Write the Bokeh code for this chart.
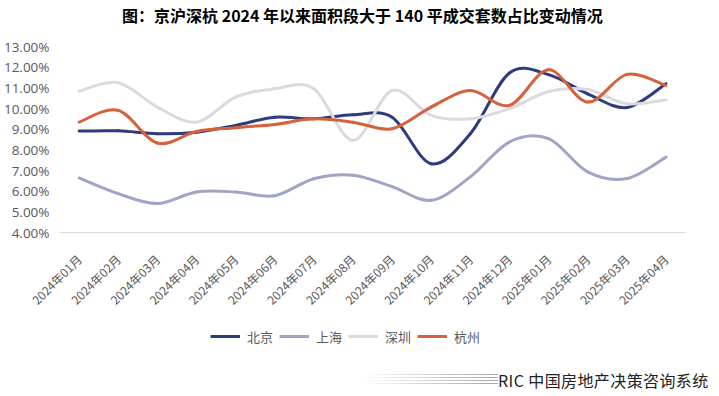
import math
from bokeh.plotting import figure
from bokeh.layouts import column
from bokeh.models import (Range1d, FixedTicker, PrintfTickFormatter, Legend,
                          LegendItem, Label, ColumnDataSource, Div)
from bokeh.embed import file_html
from bokeh.resources import INLINE

months = ["2024年01月", "2024年02月", "2024年03月", "2024年04月", "2024年05月",
          "2024年06月", "2024年07月", "2024年08月", "2024年09月", "2024年10月",
          "2024年11月", "2024年12月", "2025年01月", "2025年02月", "2025年03月",
          "2025年04月"]

beijing = [8.91, 8.92, 8.78, 8.85, 9.18, 9.58, 9.50, 9.70, 9.58, 7.33,
           8.78, 11.72, 11.64, 10.71, 10.05, 11.20]
shanghai = [6.64, 5.88, 5.40, 5.96, 5.96, 5.78, 6.60, 6.77, 6.22, 5.56,
            6.69, 8.38, 8.54, 6.93, 6.61, 7.65]
shenzhen = [10.84, 11.25, 10.07, 9.34, 10.55, 10.96, 10.96, 8.46, 10.87, 9.67,
            9.50, 9.99, 10.82, 10.92, 10.23, 10.42]
hangzhou = [9.34, 9.91, 8.33, 8.89, 9.07, 9.23, 9.50, 9.34, 9.02, 10.07,
            10.87, 10.15, 11.87, 10.31, 11.65, 11.12]

series_names = ["北京", "上海", "深圳", "杭州"]
series_values = [beijing, shanghai, shenzhen, hangzhou]
series_colors = ["#2E3C7E", "#A0A5C6", "#DADBE0", "#D5623A"]

y_ticks = list(range(4, 14))

title_text = "图：京沪深杭 2024 年以来面积段大于 140 平成交套数占比变动情况"
footer_text = "RIC 中国房地产决策咨询系统"

W = 703
BL, BR = 55, 18          # left / right borders of the main plot frame
H_TOP, H_MAIN, H_LEG, H_FOOT = 30, 294, 26, 38


def blank_fig(h):
    # frames in a column are aligned with the main plot frame (BL..W-BR)
    f = figure(width=W, height=h, output_backend="svg", toolbar_location=None,
               x_range=Range1d(BL, W - BR), y_range=Range1d(h, 0),
               x_axis_location=None, y_axis_location=None,
               min_border=0, min_border_left=0, min_border_right=0,
               min_border_top=0, min_border_bottom=0)
    f.outline_line_color = None
    f.grid.visible = False
    f.background_fill_color = "white"
    f.border_fill_color = "white"
    return f


# ---------- title strip ----------
top = blank_fig(H_TOP)
top.add_layout(Label(x=118, y=14, text=title_text, text_align="left",
                     text_baseline="middle", text_font="Noto Sans CJK SC",
                     text_font_size="16px", text_font_style="bold",
                     text_color="#000000"))

# ---------- main chart ----------
p = figure(width=W, height=H_MAIN, output_backend="svg", toolbar_location=None,
           x_range=Range1d(-0.5, len(months) - 0.5),
           y_range=Range1d(y_ticks[0], y_ticks[-1]),
           min_border_left=BL, min_border_right=BR,
           min_border_top=16, min_border_bottom=92)
p.outline_line_color = None
p.grid.visible = False
p.background_fill_color = "white"
p.border_fill_color = "white"


def smooth_segments(vals):
    n = len(vals)
    d = dict(x0=[], y0=[], x1=[], y1=[], cx0=[], cy0=[], cx1=[], cy1=[])
    for i in range(n - 1):
        im = i - 1 if i > 0 else i
        ip = i + 2 if i + 2 < n else i + 1
        d["x0"].append(i)
        d["y0"].append(vals[i])
        d["x1"].append(i + 1)
        d["y1"].append(vals[i + 1])
        d["cx0"].append(i + (i + 1 - im) / 6.0)
        d["cy0"].append(vals[i] + (vals[i + 1] - vals[im]) / 6.0)
        d["cx1"].append(i + 1 - (ip - i) / 6.0)
        d["cy1"].append(vals[i + 1] - (vals[ip] - vals[i]) / 6.0)
    return ColumnDataSource(d)


for name, vals, color in zip(series_names, series_values, series_colors):
    src = smooth_segments(vals)
    p.bezier(x0="x0", y0="y0", x1="x1", y1="y1", cx0="cx0", cy0="cy0",
             cx1="cx1", cy1="cy1", source=src, line_color=color,
             line_width=3, line_cap="round")

xa = p.xaxis[0]
xa.ticker = FixedTicker(ticks=list(range(len(months))))
xa.major_label_overrides = {i: m for i, m in enumerate(months)}
xa.major_label_orientation = math.pi / 4
xa.axis_line_color = "#D9D9D9"
xa.axis_line_width = 1
xa.major_tick_line_color = None
xa.minor_tick_line_color = None
xa.major_tick_out = 0
xa.major_tick_in = 0
xa.major_label_standoff = 24
xa.major_label_text_font = "Noto Sans CJK SC"
xa.major_label_text_font_size = "12px"
xa.major_label_text_color = "#595959"

ya = p.yaxis[0]
ya.ticker = FixedTicker(ticks=y_ticks)
ya.formatter = PrintfTickFormatter(format="%.2f%%")
ya.axis_line_color = None
ya.major_tick_line_color = None
ya.minor_tick_line_color = None
ya.major_tick_out = 0
ya.major_tick_in = 0
ya.major_label_standoff = 10
ya.major_label_text_font = "Open Sans"
ya.major_label_text_font_size = "13.5px"
ya.major_label_text_color = "#595959"

# ---------- legend strip ----------
leg = blank_fig(H_LEG)
items = []
nan = float("nan")
for name, color in zip(series_names, series_colors):
    r = leg.line(x=[nan], y=[nan], line_color=color, line_width=3)
    items.append(LegendItem(label=name, renderers=[r]))
legend = Legend(items=items, orientation="horizontal", location=(151, 4),
                padding=0, margin=0, spacing=6, label_standoff=7,
                glyph_width=30, glyph_height=20, border_line_color=None,
                background_fill_alpha=0, label_text_font_size="13px",
                label_text_color="#595959", label_text_font="Noto Sans CJK SC")
leg.add_layout(legend, "center")

# ---------- footer (source line with faded smear) ----------
footer_html = (
    '<div style="display:flex;align-items:center;white-space:nowrap;'
    'margin-top:17px;margin-left:357px;height:16px;">'
    '<span style="display:inline-block;width:136px;height:12px;'
    'background:linear-gradient(to right, rgba(255,255,255,1), rgba(255,255,255,0.05)),'
    'repeating-linear-gradient(to bottom, #a0a0a0 0px, #a0a0a0 1px, '
    'rgba(255,255,255,0) 1px, rgba(255,255,255,0) 3px);"></span>'
    '<span style="font-family:\'Noto Sans CJK SC\';font-size:16px;'
    'letter-spacing:0.4px;line-height:16px;color:#222222;">'
    + footer_text + '</span></div>'
)
foot = Div(text=footer_html, width=W, height=H_FOOT)

layout = column(top, p, leg, foot, spacing=0)
open("out.html", "w").write(file_html(layout, INLINE))
